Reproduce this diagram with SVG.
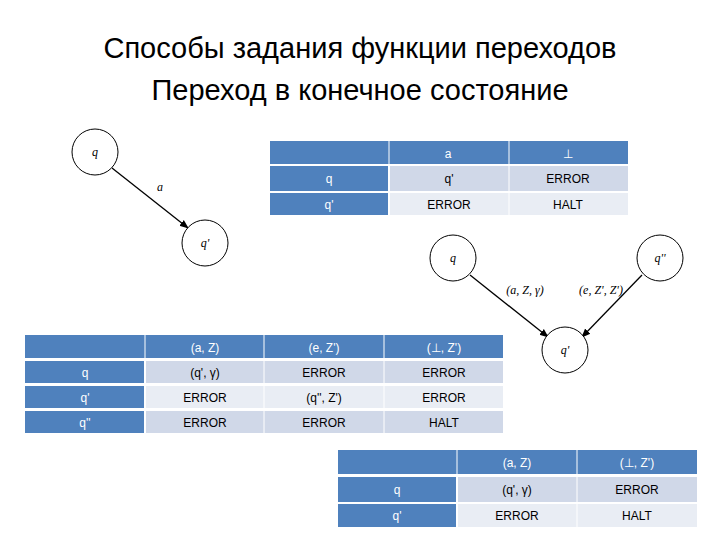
<svg xmlns="http://www.w3.org/2000/svg" width="720" height="540" viewBox="0 0 720 540">
<defs><marker id="ar" viewBox="0 0 10 10" refX="9" refY="5" markerWidth="7" markerHeight="7" orient="auto"><path d="M0,1 L10,5 L0,9 z" fill="#000"/></marker></defs>
<style>
text{font-family:"Liberation Sans",Arial,sans-serif}
.t{font-size:29px;fill:#000;text-anchor:middle}
.h{fill:#4F81BD}.o{fill:#D0D8E8}.e{fill:#E9EDF4}
.ht{font-size:12px;fill:#fff;text-anchor:middle}
.c{font-size:12px;fill:#000;text-anchor:middle}
.n{fill:#fff;stroke:#000;stroke-width:1}
.it{font-family:"Liberation Serif",serif;font-style:italic;font-size:12px;text-anchor:middle}
.ed{stroke:#000;stroke-width:1.3;fill:none;marker-end:url(#ar)}
</style>
<rect width="720" height="540" fill="#fff"/>
<text class="t" x="360" y="58">Способы задания функции переходов</text>
<text class="t" x="360" y="100">Переход в конечное состояние</text>
<g id="table1">
<rect class="h" x="270" y="141" width="358" height="23"/>
<rect class="h" x="270" y="166" width="118" height="25"/><rect class="o" x="390" y="166" width="238" height="25"/>
<rect class="h" x="270" y="193" width="118" height="22"/><rect class="e" x="390" y="193" width="238" height="22"/>
<line x1="389" y1="141" x2="389" y2="215" stroke="#fff"/><line x1="509" y1="141" x2="509" y2="215" stroke="#fff"/>
<text class="ht" x="448" y="158">a</text><text class="ht" x="568" y="158">⊥</text>
<text class="ht" x="329" y="183">q</text><text class="c" x="449" y="183">q'</text><text class="c" x="568" y="183">ERROR</text>
<text class="ht" x="329" y="209">q'</text><text class="c" x="449" y="209">ERROR</text><text class="c" x="568" y="209">HALT</text>
</g>
<g id="table2">
<rect class="h" x="25" y="335" width="478" height="23"/>
<rect class="h" x="25" y="361" width="119" height="22"/><rect class="o" x="146" y="361" width="357" height="22"/>
<rect class="h" x="25" y="386" width="119" height="22"/><rect class="e" x="146" y="386" width="357" height="22"/>
<rect class="h" x="25" y="411" width="119" height="22"/><rect class="o" x="146" y="411" width="357" height="22"/>
<line x1="145" y1="335" x2="145" y2="433" stroke="#fff"/><line x1="264" y1="335" x2="264" y2="433" stroke="#fff"/><line x1="384" y1="335" x2="384" y2="433" stroke="#fff"/>
<text class="ht" x="205" y="352">(a, Z)</text><text class="ht" x="324" y="352">(e, Z')</text><text class="ht" x="444" y="352">(⊥, Z')</text>
<text class="ht" x="85" y="377">q</text><text class="c" x="205" y="377">(q', γ)</text><text class="c" x="324" y="377">ERROR</text><text class="c" x="444" y="377">ERROR</text>
<text class="ht" x="85" y="402">q'</text><text class="c" x="205" y="402">ERROR</text><text class="c" x="324" y="402">(q'', Z')</text><text class="c" x="444" y="402">ERROR</text>
<text class="ht" x="85" y="427">q''</text><text class="c" x="205" y="427">ERROR</text><text class="c" x="324" y="427">ERROR</text><text class="c" x="444" y="427">HALT</text>
</g>
<g id="table3">
<rect class="h" x="338" y="450" width="359" height="24"/>
<rect class="h" x="338" y="477" width="118" height="25"/><rect class="o" x="458" y="477" width="239" height="25"/>
<rect class="h" x="338" y="504" width="118" height="23"/><rect class="e" x="458" y="504" width="239" height="23"/>
<line x1="457" y1="450" x2="457" y2="527" stroke="#fff"/><line x1="577" y1="450" x2="577" y2="527" stroke="#fff"/>
<text class="ht" x="517" y="467">(a, Z)</text><text class="ht" x="637" y="467">(⊥, Z')</text>
<text class="ht" x="397" y="494">q</text><text class="c" x="517" y="494">(q', γ)</text><text class="c" x="637" y="494">ERROR</text>
<text class="ht" x="397" y="520">q'</text><text class="c" x="517" y="520">ERROR</text><text class="c" x="637" y="520">HALT</text>
</g>
<g id="connectors">
<line class="ed" x1="112" y1="168" x2="188" y2="228"/>
<line class="ed" x1="470" y1="275" x2="548" y2="337"/>
<line class="ed" x1="642" y1="275" x2="582" y2="337"/>
<text class="it" x="160" y="191">a</text>
<text class="it" x="525" y="294">(a, Z, γ)</text>
<text class="it" x="601" y="294">(e, Z', Z')</text>
</g>
<g id="n1"><circle class="n" cx="95" cy="152" r="23"/><text class="it" x="95" y="156">q</text></g>
<g id="n2"><circle class="n" cx="205" cy="243" r="23" stroke-width="3"/><circle cx="205" cy="243" r="21" fill="none" stroke="#fff" stroke-width="0.8" stroke-dasharray="2 2"/><text class="it" x="205" y="247">q'</text></g>
<g id="n3"><circle class="n" cx="453" cy="258" r="23"/><text class="it" x="453" y="262">q</text></g>
<g id="n4"><circle class="n" cx="660" cy="258" r="23"/><text class="it" x="660" y="262">q''</text></g>
<g id="n5"><circle class="n" cx="565" cy="350" r="23"/><text class="it" x="565" y="354">q'</text></g>
</svg>
